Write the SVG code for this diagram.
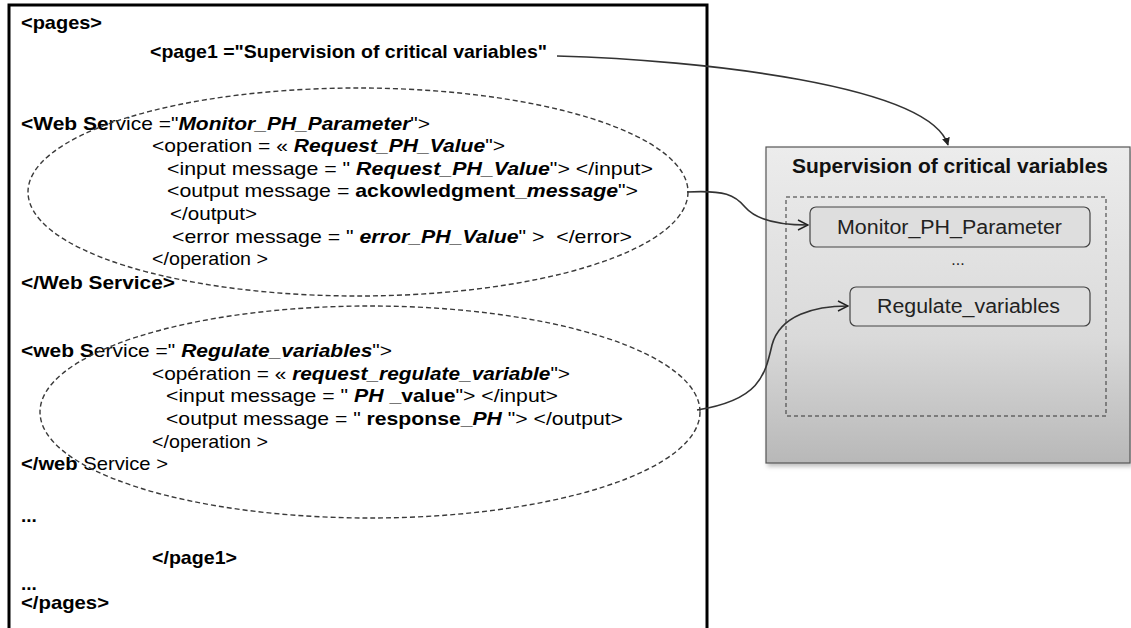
<svg xmlns="http://www.w3.org/2000/svg" width="1131" height="628" viewBox="0 0 1131 628">
<style>
  .t { font-family: "Liberation Sans", Arial, sans-serif; font-size: 19px; fill: #000; white-space: pre; }
  .b { font-weight: bold; }
  .bi { font-weight: bold; font-style: italic; }
  .i { font-style: italic; }
  .ell { fill: none; stroke: #3a3a3a; stroke-width: 1.4; stroke-dasharray: 5 3; }
  .conn { fill: none; stroke: #333; stroke-width: 1.6; }
  .svc { fill: #dedede; stroke: #444; stroke-width: 1.2; }
  .svct { font-family: "Liberation Sans", Arial, sans-serif; font-size: 20px; fill: #222; text-anchor: start; }
</style>
<defs>
  <linearGradient id="grayGrad" x1="0" y1="0" x2="0" y2="1">
    <stop offset="0" stop-color="#ececec"/>
    <stop offset="0.6" stop-color="#dadada"/>
    <stop offset="1" stop-color="#b8b8b8"/>
  </linearGradient>
  <filter id="shadow" x="-5%" y="-5%" width="115%" height="115%">
    <feDropShadow dx="2" dy="3" stdDeviation="2" flood-color="#000" flood-opacity="0.25"/>
  </filter>
  <marker id="arrFill" viewBox="0 0 10 10" refX="9" refY="5" markerWidth="8" markerHeight="8" markerUnits="userSpaceOnUse" orient="auto">
    <path d="M0,0 L10,5 L0,10 z" fill="#222"/>
  </marker>
  <marker id="arrOpen" viewBox="0 0 12 12" refX="11" refY="6" markerWidth="12" markerHeight="12" markerUnits="userSpaceOnUse" orient="auto">
    <path d="M1,1 L11,6 L1,11" fill="none" stroke="#222" stroke-width="1.4"/>
  </marker>
</defs>

<rect width="1131" height="628" fill="#fff"/>

<g id="xml-document">
  <rect x="9" y="5" width="698" height="640" fill="#fff" stroke="#000" stroke-width="3"/>
  <text class="t b" x="21" y="29" font-size="17" textLength="81" lengthAdjust="spacingAndGlyphs">&lt;pages&gt;</text>
  <text class="t b" x="150" y="58" font-size="20" textLength="397" lengthAdjust="spacingAndGlyphs">&lt;page1 ="Supervision of critical variables"</text>
</g>

<g id="ws-monitor">
  <text class="t" x="21" y="130" textLength="409" lengthAdjust="spacingAndGlyphs"><tspan class="b">&lt;Web Se</tspan>rvice ="<tspan class="bi">Monitor_PH_Parameter</tspan>"&gt;</text>
  <text class="t" x="152" y="152" textLength="353" lengthAdjust="spacingAndGlyphs">&lt;operation = « <tspan class="bi">Request_PH_Value</tspan>"&gt;</text>
  <text class="t" x="167" y="175" textLength="486" lengthAdjust="spacingAndGlyphs">&lt;input message = " <tspan class="bi">Request_PH_Value</tspan>"&gt; &lt;/input&gt;</text>
  <text class="t" x="167" y="197" textLength="471" lengthAdjust="spacingAndGlyphs">&lt;output message = <tspan class="b">ackowledgment_</tspan><tspan class="bi">message</tspan>"&gt;</text>
  <text class="t" x="170" y="220" textLength="87" lengthAdjust="spacingAndGlyphs">&lt;/output&gt;</text>
  <text class="t" x="172" y="243" textLength="460" lengthAdjust="spacingAndGlyphs">&lt;error message = " <tspan class="bi">error_PH_Value</tspan>" &gt;  &lt;/error&gt;</text>
  <text class="t" x="152" y="265" textLength="116" lengthAdjust="spacingAndGlyphs">&lt;/operation &gt;</text>
  <text class="t b" x="21" y="289" textLength="154" lengthAdjust="spacingAndGlyphs">&lt;/Web Service&gt;</text>
  <ellipse class="ell" cx="358" cy="192" rx="330" ry="104"/>
</g>

<g id="ws-regulate">
  <text class="t" x="21" y="357" textLength="371" lengthAdjust="spacingAndGlyphs"><tspan class="b">&lt;web S</tspan>ervice =" <tspan class="bi">Regulate_variables</tspan>"&gt;</text>
  <text class="t" x="152" y="380" textLength="418" lengthAdjust="spacingAndGlyphs">&lt;opération = « <tspan class="bi">request_regulate_variable</tspan>"&gt;</text>
  <text class="t" x="166" y="402" textLength="392" lengthAdjust="spacingAndGlyphs">&lt;input message = " <tspan class="bi">PH</tspan> <tspan class="b">_value</tspan>"&gt; &lt;/input&gt;</text>
  <text class="t" x="166" y="425" textLength="457" lengthAdjust="spacingAndGlyphs">&lt;output message = " <tspan class="b">response_</tspan><tspan class="bi">PH</tspan> "&gt; &lt;/output&gt;</text>
  <text class="t" x="152" y="448" textLength="116" lengthAdjust="spacingAndGlyphs">&lt;/operation &gt;</text>
  <text class="t" x="21" y="470" textLength="147" lengthAdjust="spacingAndGlyphs"><tspan class="b">&lt;/web</tspan> Service &gt;</text>
  <ellipse class="ell" cx="370" cy="412" rx="330" ry="106"/>
</g>

<g id="xml-tail">
  <text class="t b" x="21" y="522">...</text>
  <text class="t b" x="152" y="564" textLength="85" lengthAdjust="spacingAndGlyphs">&lt;/page1&gt;</text>
  <text class="t b" x="21" y="590">...</text>
  <text class="t b" x="21" y="609" textLength="88" lengthAdjust="spacingAndGlyphs">&lt;/pages&gt;</text>
</g>

<g id="page-supervision">
  <rect x="766" y="147" width="364" height="316" fill="url(#grayGrad)" stroke="#555" stroke-width="1.2" filter="url(#shadow)"/>
  <text x="792" y="173" font-family="'Liberation Sans', Arial, sans-serif" font-size="20" font-weight="bold" fill="#111" textLength="316" lengthAdjust="spacingAndGlyphs">Supervision of critical variables</text>
  <rect x="786" y="197" width="320" height="219" fill="none" stroke="#333" stroke-width="1" stroke-dasharray="4 3"/>
  <text x="958" y="265" font-family="'Liberation Sans', Arial, sans-serif" font-size="16" fill="#222" text-anchor="middle">...</text>
</g>

<g id="svc-monitor">
  <rect class="svc" x="810" y="207" width="280" height="40" rx="6"/>
  <text class="svct" x="837" y="234" textLength="225" lengthAdjust="spacingAndGlyphs">Monitor_PH_Parameter</text>
</g>

<g id="svc-regulate">
  <rect class="svc" x="850" y="287" width="240" height="39" rx="6"/>
  <text class="svct" x="877" y="313" textLength="183" lengthAdjust="spacingAndGlyphs">Regulate_variables</text>
</g>

<g id="connectors">
  <path class="conn" d="M557,56 C700,60 930,85 948,145" marker-end="url(#arrFill)"/>
  <path class="conn" d="M687,192 C725,190 735,195 745,207 C757,221 780,225 808,225" marker-end="url(#arrOpen)"/>
  <path class="conn" d="M697,410 C760,400 765,375 772,345 C780,315 815,306 848,306" marker-end="url(#arrOpen)"/>
</g>
</svg>
